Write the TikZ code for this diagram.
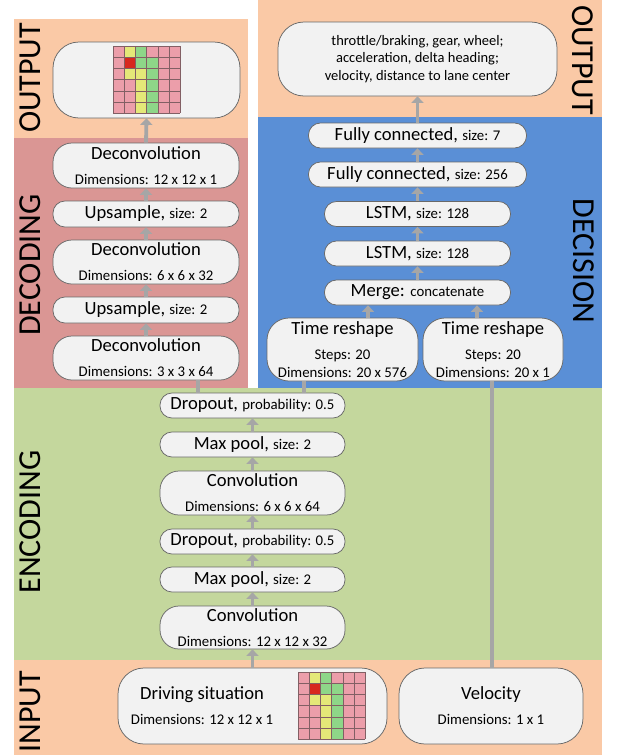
\documentclass[tikz,border=0pt]{standalone}
\usepackage{fontspec}
\setmainfont{Carlito}
\usetikzlibrary{arrows.meta}
\definecolor{peach}{RGB}{250,201,166}
\definecolor{decred}{RGB}{218,150,148}
\definecolor{decblue}{RGB}{90,143,214}
\definecolor{encgreen}{RGB}{196,215,157}
\definecolor{boxfill}{RGB}{242,242,242}
\definecolor{boxline}{RGB}{105,105,105}
\definecolor{arrgray}{RGB}{166,166,166}
\definecolor{cpink}{RGB}{236,158,170}
\definecolor{cyellow}{RGB}{228,232,120}
\definecolor{cgreen}{RGB}{142,214,136}
\definecolor{cred}{RGB}{215,40,30}
\definecolor{cgrid}{RGB}{130,95,100}
\newcommand{\mainsz}{\fontsize{18.6}{25}\selectfont}
\newcommand{\smsz}{\fontsize{14.8}{18}\selectfont}
\newcommand{\labsz}{\fontsize{32}{32}\selectfont}
\newcommand{\sitgrid}[2]{%
  \begin{scope}[shift={(#1,#2)}]
    \foreach \r/\cl in {0/{cpink,cyellow,cgreen,cpink,cpink,cpink},
                        1/{cpink,cred,cgreen,cgreen,cpink,cpink},
                        2/{cpink,cyellow,cyellow,cgreen,cpink,cpink},
                        3/{cpink,cpink,cyellow,cgreen,cpink,cpink},
                        4/{cpink,cpink,cyellow,cgreen,cpink,cpink},
                        5/{cpink,cpink,cyellow,cgreen,cpink,cpink}}{
      \foreach \c [count=\i from 0] in \cl {
        \fill[\c] (\i*11.2,\r*11.2) rectangle ++(11.2,11.2);
      }
    }
    \foreach \k in {0,...,6}{
      \draw[cgrid, line width=0.6pt] (\k*11.2,0) -- (\k*11.2,67.2);
      \draw[cgrid, line width=0.6pt] (0,\k*11.2) -- (67.2,\k*11.2);
    }
  \end{scope}}
\begin{document}
\begin{tikzpicture}[x=1pt,y=-1pt,
  blk/.style={draw=boxline, line width=0.75pt, fill=boxfill, inner sep=0pt, align=center, font=\mainsz},
  pill/.style={blk, rounded corners=12pt},
  tall/.style={blk, rounded corners=19pt},
  big/.style={blk, rounded corners=26pt},
  lab/.style={font=\labsz, inner sep=0pt},
  txt/.style={inner sep=0pt, align=center, font=\mainsz},
  arr/.style={draw=arrgray, line width=3.8pt, -{Triangle[width=12pt,length=6.5pt]}},
  link/.style={draw=arrgray, line width=3.8pt}]
\useasboundingbox (0,0) rectangle (616,755);
% regions
\fill[peach] (14,19) rectangle (248,138);
\fill[decred] (14,138) rectangle (248,388);
\fill[peach] (258,0) rectangle (602,117);
\fill[decblue] (258,117) rectangle (602,388);
\fill[encgreen] (14,388) rectangle (602,660);
\fill[peach] (14,660) rectangle (602,755);
% region labels
\node[lab, rotate=90] (lOutL) at (30,78) {OUTPUT};
\node[lab, rotate=90] (lDec) at (30,265) {DECODING};
\node[lab, rotate=90] (lEnc) at (30,522) {ENCODING};
\node[lab, rotate=90] (lIn) at (30,712) {INPUT};
\node[lab, rotate=-90] (lOutR) at (583,60) {OUTPUT};
\node[lab, rotate=-90] (lDcs) at (584,261) {DECISION};
% decoding column
\node[big, minimum width=187, minimum height=76] (outL) at (146.5,80) {};
\sitgrid{113}{46}
\node[tall, minimum width=186, minimum height=45] (dc1) at (146,165.5) {Deconvolution\\{\smsz Dimensions: 12 x 12 x 1}};
\node[pill, minimum width=186, minimum height=26] (up1) at (146,214) {Upsample, {\smsz size: 2}};
\node[tall, minimum width=186, minimum height=44] (dc2) at (146,262) {Deconvolution\\{\smsz Dimensions: 6 x 6 x 32}};
\node[pill, minimum width=186, minimum height=26] (up2) at (146,310) {Upsample, {\smsz size: 2}};
\node[tall, minimum width=186, minimum height=44] (dc3) at (146,358) {Deconvolution\\{\smsz Dimensions: 3 x 3 x 64}};
% encoding column
\node[pill, minimum width=185, minimum height=25] (do1) at (252.5,405.5) {Dropout, {\smsz probability: 0.5}};
\node[pill, minimum width=185, minimum height=25] (mp1) at (252.5,444.5) {Max pool, {\smsz size: 2}};
\node[tall, minimum width=185, minimum height=44] (cv1) at (252.5,493) {Convolution\\{\smsz Dimensions: 6 x 6 x 64}};
\node[pill, minimum width=185, minimum height=25] (do2) at (252.5,541.5) {Dropout, {\smsz probability: 0.5}};
\node[pill, minimum width=185, minimum height=25] (mp2) at (252.5,579.5) {Max pool, {\smsz size: 2}};
\node[tall, minimum width=185, minimum height=43] (cv2) at (252.5,627.5) {Convolution\\{\smsz Dimensions: 12 x 12 x 32}};
% input
\node[big, minimum width=269, minimum height=76] (drv) at (252.5,706) {};
\node[txt] (drvtxt) at (202,706) {Driving situation\\{\smsz Dimensions: 12 x 12 x 1}};
\sitgrid{298}{672}
\node[big, minimum width=184, minimum height=76] (vel) at (491,706) {Velocity\\{\smsz Dimensions: 1 x 1}};
% decision column
\node[big, minimum width=279, minimum height=74, font=\fontsize{14.5}{17.5}\selectfont] (outR) at (417.5,59) {throttle/braking, gear, wheel;\\acceleration, delta heading;\\velocity, distance to lane center};
\node[pill, minimum width=218, minimum height=25] (fc7) at (417.5,135.5) {Fully connected, {\smsz size: 7}};
\node[pill, minimum width=218, minimum height=25] (fc256) at (417.5,174.5) {Fully connected, {\smsz size: 256}};
\node[pill, minimum width=186, minimum height=25] (ls1) at (417.5,214) {LSTM, {\smsz size: 128}};
\node[pill, minimum width=186, minimum height=25] (ls2) at (417.5,253.5) {LSTM, {\smsz size: 128}};
\node[pill, minimum width=186, minimum height=25] (mrg) at (417.5,292.5) {Merge: {\smsz concatenate}};
\node[big, rounded corners=22pt, minimum width=151, minimum height=63] (trl) at (342.5,349.5) {Time reshape\\{\smsz Steps: 20}\\[-7pt]{\smsz Dimensions: 20 x 576}};
\node[big, rounded corners=22pt, minimum width=140, minimum height=63] (trr) at (493,349.5) {Time reshape\\{\smsz Steps: 20}\\[-7pt]{\smsz Dimensions: 20 x 1}};
% connector x positions
\coordinate (xa) at (198,0);
\coordinate (xb) at (304,0);
\coordinate (xc) at (368,0);
\coordinate (xd) at (477,0);
\coordinate (xe) at (492,0);
% connectors
\draw[arr] (dc1.north) -- (outL.south);
\draw[arr] (up1.north) -- (dc1.south);
\draw[arr] (dc2.north) -- (up1.south);
\draw[arr] (up2.north) -- (dc2.south);
\draw[arr] (dc3.north) -- (up2.south);
\draw[link] (do1.north -| xa) -- (dc3.south -| xa);
\draw[link] (do1.north -| xb) -- (trl.south -| xb);
\draw[arr] (mp1.north) -- (do1.south);
\draw[arr] (cv1.north) -- (mp1.south);
\draw[arr] (do2.north) -- (cv1.south);
\draw[arr] (mp2.north) -- (do2.south);
\draw[arr] (cv2.north) -- (mp2.south);
\draw[arr] (drv.north) -- (cv2.south);
\draw[link] (vel.north -| xe) -- (trr.south -| xe);
\draw[arr] (trl.north -| xc) -- (mrg.south -| xc);
\draw[arr] (trr.north -| xd) -- (mrg.south -| xd);
\draw[arr] (mrg.north) -- (ls2.south);
\draw[arr] (ls2.north) -- (ls1.south);
\draw[arr] (ls1.north) -- (fc256.south);
\draw[arr] (fc256.north) -- (fc7.south);
\draw[arr] (fc7.north) -- (outR.south);
\end{tikzpicture}
\end{document}
